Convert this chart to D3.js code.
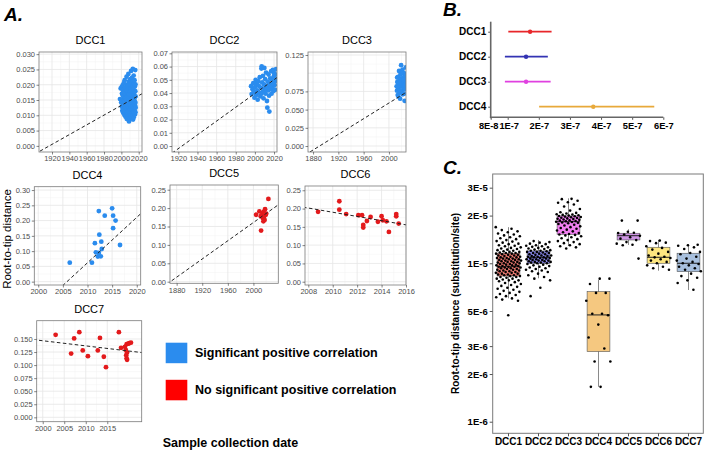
<!DOCTYPE html>
<html><head><meta charset="utf-8">
<script src="https://cdn.jsdelivr.net/npm/d3@7"></script>
<style>body{margin:0;background:#fff}svg{font-family:"Liberation Sans",Arial,Helvetica,sans-serif}</style>
</head><body><svg id="chart" width="704" height="450"></svg>
<script>
// ---------------- DATA ----------------
const sigColor = "#2b8cee", nonSigColor = "#e31a1c";
const legendLabels = ["Significant positive correlation", "No significant positive correlation"];

const dcc1Pts = [
[1998.4,0.0153],[1999.2,0.0188],[1999.8,0.0142],[2000.3,0.0192],[2000.7,0.0171],[2000.5,0.0128],[2001.1,0.0115],
[2001.4,0.0198],[2001.9,0.0182],[2001.6,0.0165],[2002.2,0.0150],[2001.8,0.0139],[2002.4,0.0121],[2002.0,0.0108],
[2002.8,0.0205],[2003.1,0.0176],[2002.6,0.0160],[2003.3,0.0147],[2003.0,0.0133],[2002.9,0.0118],[2003.5,0.0101],
[2003.8,0.0215],[2004.2,0.0190],[2003.6,0.0172],[2004.4,0.0158],[2004.0,0.0144],[2004.6,0.0130],[2004.1,0.0112],[2004.8,0.0095],
[2005.1,0.0185],[2005.4,0.0168],[2004.9,0.0155],[2005.6,0.0141],[2005.2,0.0126],[2005.8,0.0110],[2005.3,0.0098],
[2006.0,0.0226],[2006.4,0.0200],[2005.9,0.0181],[2006.6,0.0163],[2006.2,0.0150],[2006.8,0.0137],[2006.1,0.0122],[2006.5,0.0106],[2006.3,0.0088],
[2007.2,0.0195],[2007.6,0.0176],[2007.0,0.0161],[2007.8,0.0146],[2007.4,0.0132],[2007.9,0.0117],[2007.3,0.0102],
[2008.1,0.0235],[2008.5,0.0210],[2008.0,0.0188],[2008.7,0.0170],[2008.3,0.0156],[2008.9,0.0142],[2008.2,0.0128],[2008.6,0.0113],[2008.4,0.0096],[2008.8,0.0080],
[2009.3,0.0202],[2009.7,0.0183],[2009.1,0.0167],[2009.9,0.0152],[2009.5,0.0138],[2009.2,0.0124],[2009.8,0.0108],[2009.4,0.0093],
[2010.2,0.0218],[2010.6,0.0196],[2010.0,0.0178],[2010.8,0.0160],[2010.4,0.0145],[2010.9,0.0131],[2010.1,0.0118],[2010.7,0.0104],[2010.3,0.0090],
[2011.2,0.0245],[2011.6,0.0208],[2011.0,0.0186],[2011.8,0.0170],[2011.4,0.0155],[2011.9,0.0140],[2011.1,0.0125],[2011.7,0.0111],[2011.3,0.0097],
[2012.2,0.0222],[2012.6,0.0199],[2012.0,0.0180],[2012.8,0.0164],[2012.4,0.0149],[2012.9,0.0135],[2012.1,0.0120],[2012.7,0.0106],[2012.3,0.0092],
[2013.2,0.0252],[2013.6,0.0212],[2013.0,0.0190],[2013.8,0.0173],[2013.4,0.0158],[2013.9,0.0143],[2013.1,0.0129],[2013.7,0.0114],[2013.3,0.0100],[2013.5,0.0086],
[2014.2,0.0230],[2014.6,0.0204],[2014.0,0.0184],[2014.8,0.0167],[2014.4,0.0152],[2014.9,0.0137],[2014.1,0.0122],[2014.7,0.0108],[2014.3,0.0094],
[2015.2,0.0215],[2015.6,0.0194],[2015.0,0.0176],[2015.8,0.0160],[2015.4,0.0146],[2015.9,0.0131],[2015.1,0.0117],[2015.7,0.0103],
[2016.0,0.0248],[2016.3,0.0201],[2016.1,0.0179],[2016.4,0.0162],[2016.2,0.0141],[2016.5,0.0125],[2016.3,0.0110]
];
const dcc2Pts = [
[1996.0,0.0452],[1996.6,0.0392],[1997.5,0.0428],[1998.3,0.0475],[1998.8,0.0410],[1999.5,0.0365],
[2000.2,0.0445],[2000.8,0.0500],[2001.3,0.0385],[2001.9,0.0470],[2002.4,0.0420],[2002.9,0.0350],
[2003.5,0.0490],[2004.0,0.0455],[2004.5,0.0402],[2005.1,0.0520],[2005.6,0.0375],[2006.2,0.0440],
[2006.8,0.0585],[2007.1,0.0602],[2007.6,0.0480],[2008.0,0.0410],[2008.5,0.0530],[2009.0,0.0360],
[2009.5,0.0465],[2009.9,0.0590],[2010.3,0.0435],[2010.8,0.0505],[2011.2,0.0395],[2011.7,0.0555],
[2012.1,0.0450],[2012.6,0.0340],[2013.0,0.0290],[2013.4,0.0485],[2013.9,0.0420],[2014.3,0.0540],
[2014.8,0.0380],[2015.1,0.0260],[2015.6,0.0470],[2016.0,0.0510],[2016.5,0.0430],[2017.0,0.0565],
[2017.4,0.0395],[2017.9,0.0500],[2018.3,0.0445],[2018.8,0.0575],[2019.3,0.0415],[2019.7,0.0525],
[2020.1,0.0550],[2020.6,0.0460],[2021.0,0.0490],[2021.5,0.0540],[2022.1,0.0580],[2022.4,0.0505],
[2003.0,0.0405],[2007.0,0.0395],[2010.0,0.0415],[2013.0,0.0440],[2016.0,0.0455],[2019.0,0.0470],[2021.0,0.0425]
];
const dcc3Pts = [
[2012.2,0.0820],[2012.8,0.0760],[2013.3,0.0880],[2013.9,0.0700],[2014.4,0.0950],[2014.9,0.0790],
[2015.5,0.0850],[2016.0,0.1030],[2016.6,0.0730],[2017.1,0.0900],[2017.7,0.0650],[2018.2,0.0980],
[2018.8,0.0820],[2019.3,0.1110],[2019.9,0.0760],[2020.4,0.0920],[2021.0,0.0860],[2021.5,0.1050],
[2022.1,0.0710],[2022.6,0.0940],[2023.2,0.0800],[2023.7,0.1000],[2024.3,0.0870],[2024.8,0.0620],
[2025.4,0.0960],[2025.9,0.0780],[2026.3,0.0900],[2026.7,0.1080],[2013.0,0.0940],[2015.0,0.0680],
[2017.0,0.0830],[2019.0,0.0880],[2021.0,0.0740],[2023.0,0.0910],[2025.0,0.0830],[2020.0,0.1000],
[2018.0,0.0760],[2016.0,0.0870],[2014.0,0.0820],[2024.0,0.0720]
];
const dcc4Pts = [[2006.4,0.062],[2012.3,0.231],[2015.0,0.240],[2015.2,0.216],[2013.5,0.216],[2015.7,0.200],[2015.2,0.175],[2012.4,0.154],[2011.5,0.126],[2012.8,0.131],[2012.9,0.107],[2011.7,0.096],[2012.1,0.082],[2012.7,0.083],[2010.9,0.062],[2016.6,0.120],[2012.3,0.094]];
const dcc5Pts = [[2004.2,0.182],[2009.3,0.191],[2014.6,0.186],[2018.2,0.197],[2023.4,0.225],[2013.1,0.180],[2016.7,0.177],[2019.3,0.182],[2015.6,0.164],[2012.0,0.139],[2014.6,0.173],[2017.5,0.168],[2020.0,0.185],[2011.5,0.178],[2016.0,0.190]];
const dcc6Pts = [[2008.8,0.191],[2010.54,0.220],[2010.54,0.197],[2011.1,0.185],[2012.1,0.182],[2012.4,0.182],[2012.5,0.155],[2012.5,0.148],[2012.8,0.166],[2013.1,0.177],[2013.7,0.164],[2014.0,0.179],[2014.1,0.168],[2014.4,0.165],[2014.6,0.136],[2015.2,0.179],[2015.2,0.185],[2015.4,0.159]];
const dcc7Pts = [[2003.0,0.158],[2007.3,0.151],[2008.5,0.163],[2006.6,0.122],[2009.3,0.128],[2010.5,0.117],[2012.8,0.128],[2013.3,0.152],[2014.2,0.116],[2014.7,0.096],[2017.7,0.163],[2018.2,0.133],[2019.1,0.135],[2019.5,0.140],[2019.9,0.141],[2020.1,0.142],[2020.5,0.143],[2019.3,0.129],[2019.6,0.124],[2019.4,0.119],[2019.5,0.113],[2019.6,0.110]];

// regression lines (two points each, extended across panel)
const dcc1Line = [[1910,-0.0011],[2023.5,0.0170]];
const dcc2Line = [[1915.5,-0.0043],[2023.1,0.0517]];
const dcc3Line = [[1880,-0.0055],[2014.6,0.0669]];
const dcc4Line = [[2005.1,-0.011],[2020.7,0.221]];
const dcc5Line = [[1866.6,-0.0044],[2038.9,0.209]];
const dcc6Line = [[2007.73,0.203],[2015.9,0.156]];
const dcc7Line = [[1998.6,0.148],[2023,0.124]];

// tick labels
const dcc1XTicks = [1920,1940,1960,1980,2000,2020], dcc1YTicks = [0,0.005,0.010,0.015,0.020,0.025,0.030];
const dcc2XTicks = [1920,1940,1960,1980,2000,2020], dcc2YTicks = [0,0.01,0.02,0.03,0.04,0.05,0.06,0.07];
const dcc3XTicks = [1880,1920,1960,2000], dcc3YTicks = [0,0.025,0.050,0.075,0.125], dcc3YGrid = [0,0.025,0.05,0.075,0.1,0.125];
const dcc4XTicks = [2000,2005,2010,2015,2020], dcc4YTicks = [0,0.05,0.10,0.15,0.20,0.25,0.30];
const dcc5XTicks = [1880,1920,1960,2000], dcc5YTicks = [0,0.05,0.10,0.15,0.20,0.25];
const dcc6XTicks = [2008,2010,2012,2014,2016], dcc6YTicks = [0,0.05,0.10,0.15,0.20,0.25];
const dcc7XTicks = [2000,2005,2010,2015], dcc7YTicks = [0,0.025,0.050,0.075,0.100,0.125,0.150];

// Panel B: rate estimates
const rateCats = ["DCC1","DCC2","DCC3","DCC4"];
const rateEst = [1.72e-7, 1.59e-7, 1.59e-7, 3.75e-7];
const rateLow = [1.02e-7, 0.91e-7, 0.91e-7, 2.01e-7];
const rateHigh = [2.41e-7, 2.29e-7, 2.38e-7, 5.71e-7];
const rateColors = ["#e8262a","#3333b3","#e040e0","#e8a93a"];
const rateTickLabels = ["8E-8","1E-7","2E-7","3E-7","4E-7","5E-7","6E-7"];
const rateTickValues = [0.454e-7,1e-7,2e-7,3e-7,4e-7,5e-7,6e-7];

// Panel C: root-to-tip per site (units of 1e-6)
const boxCats = ["DCC1","DCC2","DCC3","DCC4","DCC5","DCC6","DCC7"];
const boxColors = ["#ee7b72","#8585e6","#f27ff2","#f5c880","#cf95e6","#fde680","#a8c0de"];
const boxQ1 = [8.31,10.0,15.24,2.77,14.03,10.0,8.85];
const boxMed = [9.52,10.91,18.3,4.72,14.93,10.91,10.0];
const boxQ3 = [11.57,11.96,19.9,6.62,15.47,12.62,11.57];
const boxLo = [6.01,8.04,12.85,1.66,13.05,8.98,6.78];
const boxHi = [16.9,14.03,25.7,7.85,16.39,14.03,13.05];
const cYTickValues = [1,2,3,5,10,20,30];
const cYTickLabels = ["1E-6","2E-6","3E-6","5E-6","1E-5","2E-5","3E-5"];
const rttDCC1 = [16.9,16.5,16.2,15.9,15.7,15.4,15.2,15.0,14.8,14.6,14.4,14.2,14.0,13.8,13.7,13.5,13.3,13.2,13.0,12.9,12.8,12.6,12.5,12.4,12.3,12.2,12.1,12.0,11.9,11.8,11.8,11.7,11.6,11.6,11.5,11.5,11.4,11.3,11.3,11.2,11.2,11.1,11.0,11.0,10.9,10.9,10.8,10.8,10.7,10.7,10.6,10.6,10.5,10.5,10.4,10.4,10.3,10.3,10.2,10.2,10.1,10.1,10.0,10.0,9.9,9.9,9.8,9.8,9.7,9.7,9.6,9.6,9.5,9.5,9.5,9.4,9.4,9.3,9.3,9.2,9.2,9.1,9.1,9.0,9.0,8.9,8.9,8.8,8.8,8.7,8.7,8.6,8.6,8.5,8.5,8.4,8.4,8.3,8.3,8.2,8.2,8.1,8.0,8.0,7.9,7.8,7.8,7.7,7.6,7.5,7.4,7.3,7.2,7.1,7.0,6.9,6.8,6.7,6.6,6.5,6.4,6.3,6.2,6.1,6.0,5.9,5.8,4.7];
const rttDCC2 = [13.8,13.6,13.5,13.3,13.2,13.0,12.9,12.8,12.7,12.6,12.5,12.4,12.3,12.2,12.1,12.0,12.0,11.9,11.8,11.8,11.7,11.6,11.6,11.5,11.4,11.4,11.3,11.2,11.2,11.1,11.1,11.0,11.0,10.9,10.9,10.8,10.8,10.7,10.7,10.6,10.6,10.5,10.5,10.4,10.4,10.3,10.3,10.2,10.2,10.1,10.1,10.0,10.0,9.9,9.8,9.7,9.6,9.5,9.4,9.3,9.2,9.1,9.0,8.9,8.8,8.6,8.4,8.2,8.0,7.8,7.0,6.2];
const rttDCC3 = [25.5,25.4,24.8,24.3,24.1,23.5,22.8,22.0,21.5,21.0,20.8,20.6,20.4,20.3,20.2,20.1,20.0,19.9,19.8,19.7,19.6,19.5,19.4,19.3,19.2,19.1,19.0,18.9,18.8,18.7,18.6,18.5,18.4,18.3,18.2,18.1,18.0,17.9,17.7,17.5,17.3,17.1,16.9,16.7,16.5,16.3,16.1,15.9,15.7,15.5,15.3,15.2,15.1,15.0,14.8,14.6,14.4,14.2,14.0,13.8,13.6,13.4,13.2,13.0,12.8,12.6,12.4];
const rttDCC4 = [8.0,8.0,7.4,6.5,6.5,5.8,4.8,4.8,4.7,4.1,3.4,2.9,2.4,2.4,1.66,1.66];
const rttDCC5 = [18.6,18.6,15.8,15.5,15.6,15.2,14.9,14.6,14.3,14.0,13.6,13.3,13.1,13.0,10.7];
const rttDCC6 = [13.9,13.8,13.5,13.4,12.8,12.5,12.2,11.8,11.5,11.2,11.0,10.9,10.8,10.6,10.4,10.2,10.0,9.7,9.5,9.3,9.1];
const rttDCC7 = [13.1,13.0,12.9,12.6,12.3,11.8,11.6,11.4,11.0,10.7,10.4,10.2,10.0,9.9,9.7,9.5,9.3,9.1,8.9,8.6,8.3,8.1,7.8,7.5,6.8];
const rttAll = [rttDCC1,rttDCC2,rttDCC3,rttDCC4,rttDCC5,rttDCC6,rttDCC7];

// ---------------- LAYOUT ----------------
const svg = d3.select("#chart");
const FONT_TICK = 7.5, FONT_TITLE = 11;

const scatterPanels = [
  {name:"DCC1", pts:dcc1Pts, line:dcc1Line, xt:dcc1XTicks, yt:dcc1YTicks, fmt:".3f", col:sigColor, box:[39,52,142,152], xd:[1905,2023.8], yd:[-0.002,0.0307]},
  {name:"DCC2", pts:dcc2Pts, line:dcc2Line, xt:dcc2XTicks, yt:dcc2YTicks, fmt:".2f", col:sigColor, box:[172,52,277,152], xd:[1913.4,2023.1], yd:[-0.0045,0.071]},
  {name:"DCC3", pts:dcc3Pts, line:dcc3Line, xt:dcc3XTicks, yt:dcc3YTicks, yg:dcc3YGrid, fmt:".3f", col:sigColor, box:[308,52,406,152], xd:[1872,2027], yd:[-0.0082,0.1291]},
  {name:"DCC4", pts:dcc4Pts, line:dcc4Line, xt:dcc4XTicks, yt:dcc4YTicks, fmt:".2f", col:sigColor, box:[34.3,186.7,140.7,285], xd:[1999.2,2020.8], yd:[-0.011,0.311]},
  {name:"DCC5", pts:dcc5Pts, line:dcc5Line, xt:dcc5XTicks, yt:dcc5YTicks, fmt:".2f", col:nonSigColor, box:[170,185,278.3,283.3], xd:[1869.6,2038.9], yd:[-0.0044,0.2628]},
  {name:"DCC6", pts:dcc6Pts, line:dcc6Line, xt:dcc6XTicks, yt:dcc6YTicks, fmt:".2f", col:nonSigColor, box:[305,186,406,285], xd:[2007.73,2016.0], yd:[-0.009,0.2617]},
  {name:"DCC7", pts:dcc7Pts, line:dcc7Line, xt:dcc7XTicks, yt:dcc7YTicks, fmt:".3f", col:nonSigColor, box:[36.7,320.7,141.7,421.7], xd:[1998.6,2023], yd:[-0.0084,0.185]}
];

function minors(ticks, dom){
  const out=[]; const s=ticks[1]-ticks[0];
  const all=[ticks[0]-s, ...ticks, ticks[ticks.length-1]+s];
  for(let i=0;i<all.length-1;i++){const m=(all[i]+all[i+1])/2; if(m>dom[0]&&m<dom[1]) out.push(m);}
  return out;
}

scatterPanels.forEach((p,pi)=>{
  const [x0,y0,x1,y1]=p.box;
  const x=d3.scaleLinear().domain(p.xd).range([x0,x1]);
  const y=d3.scaleLinear().domain(p.yd).range([y1,y0]);
  const g=svg.append("g");
  g.append("rect").attr("x",x0).attr("y",y0).attr("width",x1-x0).attr("height",y1-y0).attr("fill","#fff");
  const yg=p.yg||p.yt;
  g.selectAll(".mx").data(minors(p.xt,p.xd)).join("line").attr("x1",d=>x(d)).attr("x2",d=>x(d)).attr("y1",y0).attr("y2",y1).attr("stroke","#f3f3f3").attr("stroke-width",0.5);
  g.selectAll(".my").data(minors(yg,p.yd)).join("line").attr("y1",d=>y(d)).attr("y2",d=>y(d)).attr("x1",x0).attr("x2",x1).attr("stroke","#f3f3f3").attr("stroke-width",0.5);
  g.selectAll(".gx").data(p.xt).join("line").attr("x1",d=>x(d)).attr("x2",d=>x(d)).attr("y1",y0).attr("y2",y1).attr("stroke","#e6e6e6").attr("stroke-width",0.8);
  g.selectAll(".gy").data(yg).join("line").attr("y1",d=>y(d)).attr("y2",d=>y(d)).attr("x1",x0).attr("x2",x1).attr("stroke","#e6e6e6").attr("stroke-width",0.8);
  const cid="clip"+pi;
  svg.append("clipPath").attr("id",cid).append("rect").attr("x",x0).attr("y",y0).attr("width",x1-x0).attr("height",y1-y0);
  const inner=g.append("g").attr("clip-path",`url(#${cid})`);
  inner.selectAll("circle").data(p.pts).join("circle").attr("cx",d=>x(d[0])).attr("cy",d=>y(d[1])).attr("r",2.4).attr("fill",p.col);
  const [[ax,ay],[bx,by]]=p.line; const sl=(by-ay)/(bx-ax);
  const xa=p.xd[0]-5, xb=p.xd[1]+5;
  inner.append("line").attr("x1",x(xa)).attr("y1",y(ay+sl*(xa-ax))).attr("x2",x(xb)).attr("y2",y(ay+sl*(xb-ax)))
    .attr("stroke","#222").attr("stroke-width",1).attr("stroke-dasharray","3.5,2.5");
  g.append("rect").attr("x",x0).attr("y",y0).attr("width",x1-x0).attr("height",y1-y0).attr("fill","none").attr("stroke","#7a7a7a").attr("stroke-width",0.8);
  const ax1=g.append("g").attr("transform",`translate(0,${y1})`).call(d3.axisBottom(x).tickValues(p.xt).tickFormat(d3.format("d")).tickSize(2.5).tickPadding(1.5));
  const ay1=g.append("g").attr("transform",`translate(${x0},0)`).call(d3.axisLeft(y).tickValues(p.yt).tickFormat(d3.format(p.fmt)).tickSize(2.5).tickPadding(1.5));
  [ax1,ay1].forEach(a=>{a.select(".domain").remove();a.selectAll("line").attr("stroke","#333").attr("stroke-width",0.6);
    a.selectAll("text").attr("fill","#4d4d4d").style("font-size",FONT_TICK+"px").style("font-family","'Liberation Sans',Arial,sans-serif");});
  g.append("text").attr("x",(x0+x1)/2).attr("y",y0-8).attr("text-anchor","middle").style("font-size",FONT_TITLE+"px").text(p.name);
});

// Panel A labels
svg.append("text").attr("x",4).attr("y",21).style("font-size","19px").style("font-weight","bold").style("font-style","italic").text("A.");
svg.append("text").attr("transform","translate(11,239) rotate(-90)").attr("text-anchor","middle").style("font-size","11.5px").text("Root-to-tip distance");
svg.append("text").attr("x",230.5).attr("y",446.5).attr("text-anchor","middle").style("font-size","12.5px").style("font-weight","bold").text("Sample collection date");
const legY=[342.7,379.8];
[sigColor,"#ff0000"].forEach((c,i)=>{
  svg.append("rect").attr("x",165.7).attr("y",legY[i]).attr("width",21.6).attr("height",20.5).attr("fill",c);
  svg.append("text").attr("x",195).attr("y",legY[i]+14.5).style("font-size","12.5px").style("font-weight","bold").text(legendLabels[i]);
});

// ---------------- Panel B ----------------
svg.append("text").attr("x",443).attr("y",15.5).style("font-size","19px").style("font-weight","bold").style("font-style","italic").text("B.");
const bx=d3.scaleLinear().domain([rateTickValues[0],6e-7]).range([490.7,663.3]);
const by=d3.scalePoint().domain(rateCats).range([31.7,106.7]);
const gB=svg.append("g");
rateCats.forEach((c,i)=>{
  gB.append("line").attr("x1",bx(rateLow[i])).attr("x2",bx(rateHigh[i])).attr("y1",by(c)).attr("y2",by(c)).attr("stroke",rateColors[i]).attr("stroke-width",1.8);
  gB.append("circle").attr("cx",bx(rateEst[i])).attr("cy",by(c)).attr("r",2.2).attr("fill",rateColors[i]);
});
const bAxX=gB.append("g").attr("transform","translate(0,117.3)").call(d3.axisBottom(bx).tickValues(rateTickValues).tickFormat((d,i)=>rateTickLabels[i]).tickSize(2.5).tickPadding(3));
const bAxY=gB.append("g").attr("transform","translate(490.7,0)").call(d3.axisLeft(by).tickSize(2.5).tickPadding(2));
[bAxX,bAxY].forEach(a=>{a.select(".domain").remove();a.selectAll("line").attr("stroke","#555");
  a.selectAll("text").attr("fill","#000").style("font-size","10px").style("font-weight","bold");});
bAxX.selectAll("text").style("font-size","9.3px");
bAxX.selectAll("text").filter((d,i)=>i===0).attr("dx",-2.5);
bAxX.selectAll("text").filter((d,i)=>i===1).attr("dx",1);
gB.append("line").attr("x1",490.7).attr("x2",490.7).attr("y1",21.7).attr("y2",118.3).attr("stroke","#666").attr("stroke-width",1.6);
gB.append("line").attr("x1",489.9).attr("x2",663.3).attr("y1",117.3).attr("y2",117.3).attr("stroke","#666").attr("stroke-width",1.6);

// ---------------- Panel C ----------------
svg.append("text").attr("x",443).attr("y",174).style("font-size","19px").style("font-weight","bold").style("font-style","italic").text("C.");
const cx=d3.scaleBand().domain(boxCats).range([493.5,703.5]);
const cy=d3.scaleLog().domain([0.845,36.6]).range([433.3,174]);
const gC=svg.append("g");
const bw=cx.bandwidth()*0.76;
boxCats.forEach((c,i)=>{
  const m=cx(c)+cx.bandwidth()/2;
  gC.append("line").attr("x1",m).attr("x2",m).attr("y1",cy(boxLo[i])).attr("y2",cy(boxHi[i])).attr("stroke","#8a8a8a").attr("stroke-width",1);
  gC.append("rect").attr("x",m-bw/2).attr("width",bw).attr("y",cy(boxQ3[i])).attr("height",cy(boxQ1[i])-cy(boxQ3[i]))
    .attr("fill",boxColors[i]).attr("stroke","#555").attr("stroke-width",0.6);
  gC.append("line").attr("x1",m-bw/2).attr("x2",m+bw/2).attr("y1",cy(boxMed[i])).attr("y2",cy(boxMed[i])).attr("stroke","#222").attr("stroke-width",1);
});
boxCats.forEach((c,i)=>{
  const m=cx(c)+cx.bandwidth()/2;
  const jw=cx.bandwidth()*0.85;
  gC.selectAll(null).data(rttAll[i]).join("circle")
    .attr("cx",(d,k)=>m+((((k*0.618034+0.31*i)%1)+1)%1-0.5)*jw)
    .attr("cy",d=>cy(d)).attr("r",1.3).attr("fill","#000");
});
gC.append("rect").attr("x",492.7).attr("y",174).attr("width",210.6).attr("height",259.3).attr("fill","none").attr("stroke","#7a7a7a").attr("stroke-width",1);
const cAxY=gC.append("g").attr("transform","translate(492.7,0)").call(d3.axisLeft(cy).tickValues(cYTickValues).tickFormat((d,i)=>cYTickLabels[i]).tickSize(3).tickPadding(2));
const cAxX=gC.append("g").attr("transform","translate(0,433.3)").call(d3.axisBottom(cx).tickSize(3).tickPadding(2));
[cAxX,cAxY].forEach(a=>{a.select(".domain").remove();a.selectAll("line").attr("stroke","#555");
  a.selectAll("text").attr("fill","#000").style("font-size","10px").style("font-weight","bold");});
cAxY.selectAll("text").style("font-size","9.5px");
svg.append("text").attr("transform","translate(459,303.5) rotate(-90)").attr("text-anchor","middle").style("font-size","10px").style("font-weight","bold").text("Root-to-tip distance (substitution/site)");
</script></body></html>
